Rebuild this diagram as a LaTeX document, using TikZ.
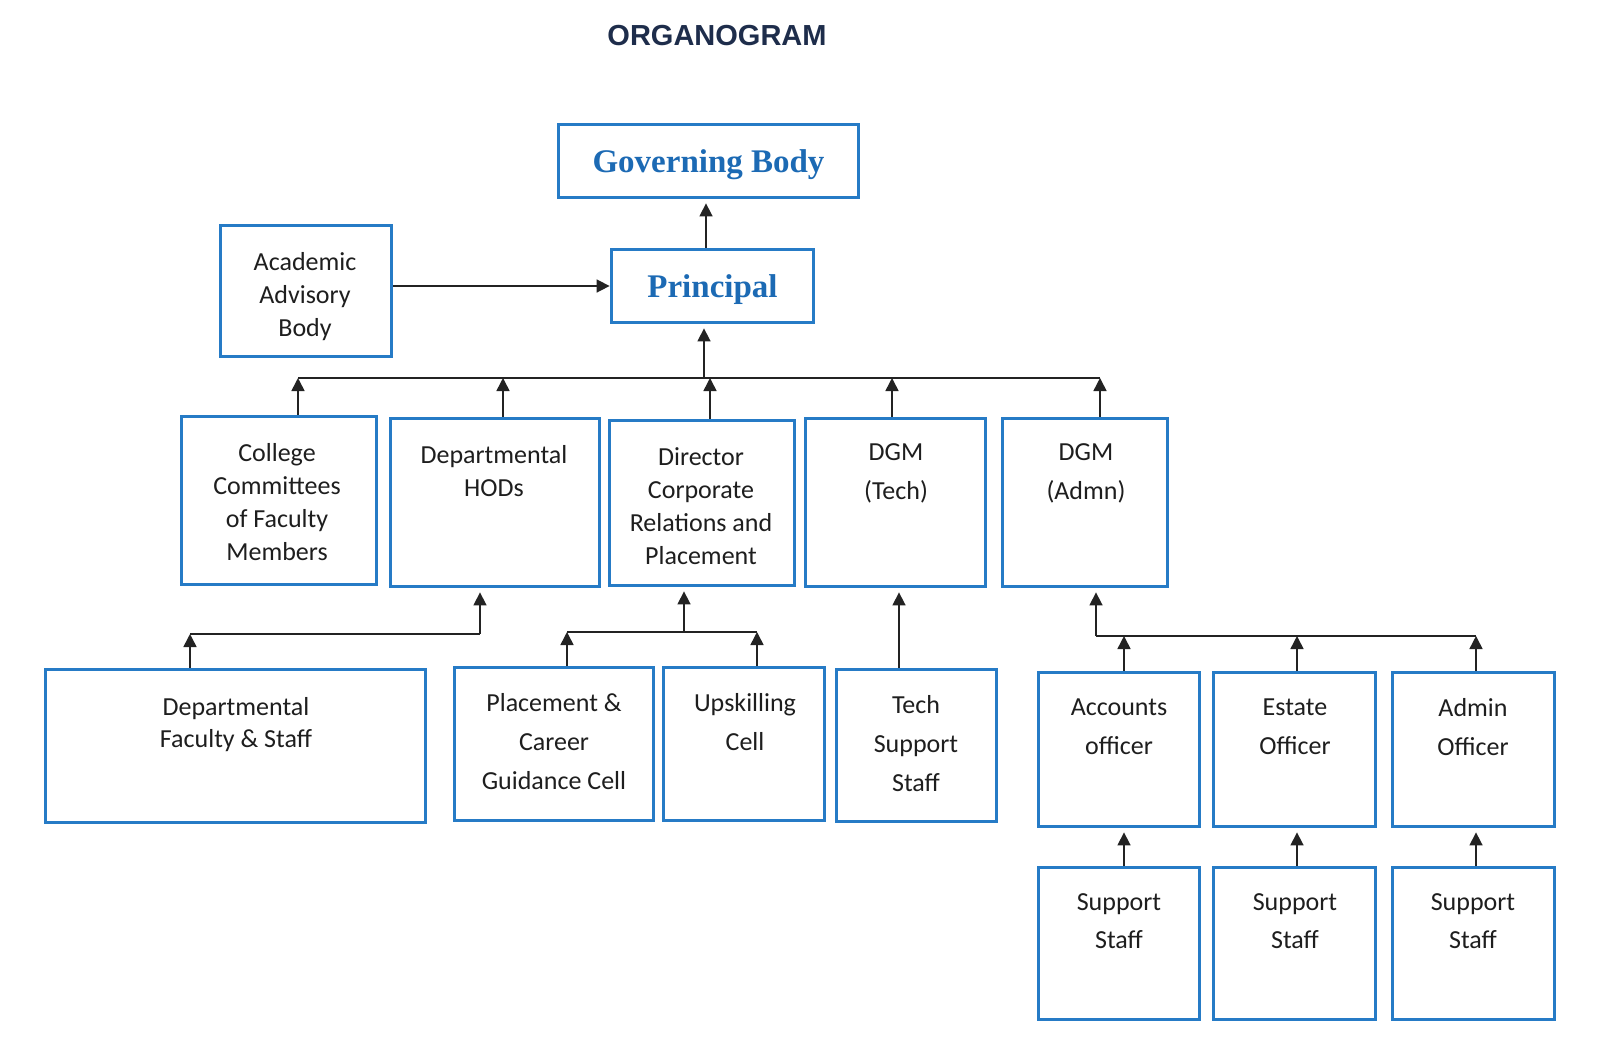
\documentclass[tikz,border=0pt]{standalone}
\usepackage{fontspec}
\setmainfont{Carlito}
\newfontfamily\titlefont{Liberation Sans}
\newfontfamily\headfont{Liberation Serif}
\usetikzlibrary{arrows.meta}
\definecolor{boxblue}{RGB}{38,123,198}
\definecolor{headblue}{RGB}{28,106,180}
\definecolor{titlenavy}{RGB}{30,45,75}
\definecolor{textgray}{RGB}{30,30,30}
\definecolor{linegray}{RGB}{35,35,35}
\begin{document}
\begin{tikzpicture}[x=0.5pt,y=-0.5pt,
 box/.style={draw=boxblue, line width=1.9pt, fill=white, inner sep=0pt},
 lbl/.style={anchor=north, inner sep=0pt, align=center, font=\fontsize{13}{16.5}\selectfont, text=textgray},
 lblw/.style={lbl, font=\fontsize{13}{19.5}\selectfont},
 arr/.style={draw=linegray, line width=0.8pt, -{Triangle[length=6.5pt,width=6.5pt]}},
 ln/.style={draw=linegray, line width=0.8pt},
 head/.style={box, font=\headfont\bfseries\fontsize{16.5}{19}\selectfont, text=headblue, text height=11pt, text depth=0pt}]
\useasboundingbox[fill=white] (0,0) rectangle (1600,1056);

\node[font=\titlefont\bfseries\fontsize{14.5}{17}\selectfont, text=titlenavy] (ttl) at (717,36) {ORGANOGRAM};

% top
\node[head, minimum width=150pt, minimum height=36.5pt] (gb) at (708.5,161) {Governing Body};
\node[head, minimum width=101pt, minimum height=36.5pt] (pr) at (712.5,286) {Principal};
\node[box, minimum width=85.5pt, minimum height=65.5pt] (aab) at (306,291) {};
\node[lbl] (aabt) at (305,252) {Academic\\Advisory\\Body};

% second row
\node[box, minimum width=97.5pt, minimum height=84pt] (col) at (279,500.5) {};
\node[lbl] (colt) at (277,443) {College\\Committees\\of Faculty\\Members};
\node[box, minimum width=104.5pt, minimum height=84pt] (hod) at (495,502.5) {};
\node[lbl] (hodt) at (494,445) {Departmental\\HODs};
\node[box, minimum width=92.5pt, minimum height=82.5pt] (dir) at (702,503) {};
\node[lbl] (dirt) at (701,447) {Director\\Corporate\\Relations and\\Placement};
\node[box, minimum width=90pt, minimum height=84pt] (dgt) at (895.5,502.5) {};
\node[lblw] (dgtt) at (896,443) {DGM\\(Tech)};
\node[box, minimum width=82.5pt, minimum height=84pt] (dga) at (1085,502.5) {};
\node[lblw] (dgat) at (1086,443) {DGM\\(Admn)};

% third row
\node[box, minimum width=190pt, minimum height=76.5pt] (df) at (235.5,746) {};
\node[lbl, font=\fontsize{13}{16}\selectfont] (dft) at (236,697) {Departmental\\Faculty \& Staff};
\node[box, minimum width=99.5pt, minimum height=76.5pt] (pl) at (554,744) {};
\node[lblw] (plt) at (554,693) {Placement \&\\Career\\Guidance Cell};
\node[box, minimum width=80.5pt, minimum height=76.5pt] (up) at (744,744) {};
\node[lblw] (upt) at (745,693) {Upskilling\\Cell};
\node[box, minimum width=80pt, minimum height=76pt] (ts) at (916.5,745.5) {};
\node[lblw] (tst) at (916,695) {Tech\\Support\\Staff};
\node[box, minimum width=80.5pt, minimum height=77pt] (acc) at (1119,749.5) {};
\node[lblw] (acct) at (1119,698) {Accounts\\officer};
\node[box, minimum width=81pt, minimum height=77pt] (est) at (1294.5,749.5) {};
\node[lblw] (estt) at (1295,698) {Estate\\Officer};
\node[box, minimum width=81pt, minimum height=77pt] (adm) at (1473.5,749.5) {};
\node[lblw] (admt) at (1473,698) {Admin\\Officer};

% fourth row
\node[box, minimum width=80.5pt, minimum height=76pt] (s1) at (1119,943.5) {};
\node[lbl, font=\fontsize{13}{19}\selectfont] (s1t) at (1119,893) {Support\\Staff};
\node[box, minimum width=81pt, minimum height=76pt] (s2) at (1294.5,943.5) {};
\node[lbl, font=\fontsize{13}{19}\selectfont] (s2t) at (1295,893) {Support\\Staff};
\node[box, minimum width=81pt, minimum height=76pt] (s3) at (1473.5,943.5) {};
\node[lbl, font=\fontsize{13}{19}\selectfont] (s3t) at (1473,893) {Support\\Staff};

% connectors top
\coordinate (g1) at (706,248);
\draw[arr, shorten >=2pt] (g1 |- pr.north) -- (g1 |- gb.south);
\draw[arr] (aab.east |- pr.west) -- (pr.west);

% bus
\coordinate (b0) at (704,378);
\coordinate (b1) at (298,378);
\coordinate (b2) at (503,378);
\coordinate (b3) at (710,378);
\coordinate (b4) at (892,378);
\coordinate (b5) at (1100,378);
\draw[ln] (b1) -- (b5);
\draw[arr, shorten >=2pt] (b0) -- (b0 |- pr.south);
\draw[arr] (b1 |- col.north) -- (b1);
\draw[arr] (b2 |- hod.north) -- (b2);
\draw[arr] (b3 |- dir.north) -- (b3);
\draw[arr] (b4 |- dgt.north) -- (b4);
\draw[arr] (b5 |- dga.north) -- (b5);

% departmental
\coordinate (h1) at (190,634);
\coordinate (h2) at (480,634);
\draw[arr] (h1 |- df.north) -- (h1);
\draw[ln] (h1) -- (h2);
\draw[arr, shorten >=2pt] (h2) -- (h2 |- hod.south);

% director
\coordinate (d0) at (684,632);
\coordinate (d1) at (567,632);
\coordinate (d2) at (757,632);
\draw[ln] (d1) -- (d2);
\draw[arr] (d1 |- pl.north) -- (d1);
\draw[arr] (d2 |- up.north) -- (d2);
\draw[arr, shorten >=2pt] (d0) -- (d0 |- dir.south);

% tech
\coordinate (t1) at (899,632);
\draw[arr, shorten >=2pt] (t1 |- ts.north) -- (t1 |- dgt.south);

% admin
\coordinate (a0) at (1096,636);
\coordinate (a1) at (1124,636);
\coordinate (a2) at (1297,636);
\coordinate (a3) at (1476,636);
\draw[ln] (a0) -- (a3);
\draw[arr, shorten >=2pt] (a0) -- (a0 |- dga.south);
\draw[arr] (a1 |- acc.north) -- (a1);
\draw[arr] (a2 |- est.north) -- (a2);
\draw[arr] (a3 |- adm.north) -- (a3);
\draw[arr, shorten >=2pt] (a1 |- s1.north) -- (a1 |- acc.south);
\draw[arr, shorten >=2pt] (a2 |- s2.north) -- (a2 |- est.south);
\draw[arr, shorten >=2pt] (a3 |- s3.north) -- (a3 |- adm.south);
\end{tikzpicture}
\end{document}
